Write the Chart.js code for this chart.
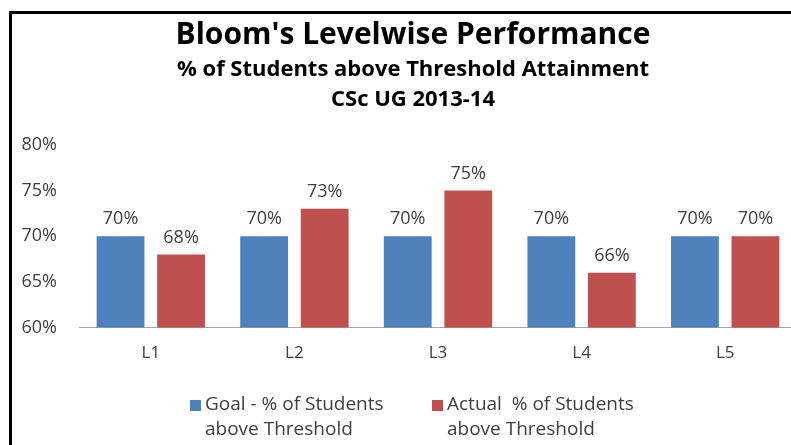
<!DOCTYPE html>
<html>
<head>
<meta charset="utf-8">
<script src="https://cdn.jsdelivr.net/npm/chart.js@4/dist/chart.umd.min.js"></script>
<style>
  html, body { margin: 0; padding: 0; background: #fff; overflow: hidden; }
  #frame { position: absolute; left: 9px; top: 11px; width: 800px; height: 440px;
           border-left: 3px solid #000; border-top: 3px solid #000; }
  #chart { display: block; }
</style>
</head>
<body>
<div id="frame"><canvas id="chart" width="785" height="440"></canvas></div>
<script>
const levels = ['L1', 'L2', 'L3', 'L4', 'L5'];
const goal = [0.70, 0.70, 0.70, 0.70, 0.70];
const actual = [0.68, 0.73, 0.75, 0.66, 0.70];
const seriesNames = [
  ['Goal - % of Students', 'above Threshold'],
  ['Actual  % of Students', 'above Threshold']
];
const seriesColors = ['#4F81BD', '#C0504D'];

const fontFam = '"Open Sans", Lato, sans-serif';
const textGray = '#404040';

function pct(v) { return Math.round(v * 100) + '%'; }

// the original frame runs past the right edge, so the titles sit a bit right of the canvas middle
const shiftTitles = {
  id: 'shiftTitles',
  afterLayout(chart) {
    chart.boxes.forEach((b) => {
      if (b.position === 'top') b.left = 17;
    });
  }
};

// value labels above each bar
const barLabels = {
  id: 'barLabels',
  afterDatasetsDraw(chart) {
    const c = chart.ctx;
    c.save();
    c.font = '18px ' + fontFam;
    c.fillStyle = textGray;
    c.textAlign = 'center';
    c.textBaseline = 'bottom';
    chart.data.datasets.forEach((ds, i) => {
      chart.getDatasetMeta(i).data.forEach((bar, j) => {
        c.fillText(pct(ds.data[j]), bar.x, bar.y - 8);
      });
    });
    c.restore();
  }
};

// two-line legend under the chart
const twoLineLegend = {
  id: 'twoLineLegend',
  afterDraw(chart) {
    const c = chart.ctx;
    const startX = [178, 420];
    c.save();
    c.font = '19px ' + fontFam;
    c.textBaseline = 'middle';
    c.textAlign = 'left';
    chart.data.datasets.forEach((ds, i) => {
      c.fillStyle = ds.backgroundColor;
      c.fillRect(startX[i], 386, 11, 11);
      c.fillStyle = textGray;
      seriesNames[i].forEach((line, k) => {
        c.fillText(line, startX[i] + 15, 391 + k * 25);
      });
    });
    c.restore();
  }
};

new Chart(document.getElementById('chart'), {
  type: 'bar',
  data: {
    labels: levels,
    datasets: [
      { label: seriesNames[0].join(' '), data: goal, backgroundColor: seriesColors[0] },
      { label: seriesNames[1].join(' '), data: actual, backgroundColor: seriesColors[1] }
    ]
  },
  options: {
    responsive: false,
    animation: false,
    categoryPercentage: 0.843,
    barPercentage: 0.79,
    layout: { padding: { left: 0, right: 0, top: 3, bottom: 84 } },
    plugins: {
      legend: { display: false },
      tooltip: { enabled: false },
      title: {
        display: true,
        text: "Bloom's Levelwise Performance",
        color: '#000',
        font: { family: fontFam, size: 30, weight: 'bold', lineHeight: 1.2 },
        padding: { top: 0, bottom: 2 }
      },
      subtitle: {
        display: true,
        text: ['% of Students above Threshold Attainment', 'CSc UG 2013-14'],
        color: '#000',
        font: { family: fontFam, size: 22, weight: 'bold', lineHeight: 1.36 },
        padding: { top: 0, bottom: 30 }
      }
    },
    scales: {
      x: {
        grid: { display: false },
        border: { display: true, color: '#A6A6A6' },
        ticks: { color: textGray, font: { family: fontFam, size: 17 }, padding: 7 }
      },
      y: {
        min: 0.6,
        max: 0.8,
        grid: { display: false },
        border: { display: false },
        afterFit: (scale) => { scale.width = 67; },
        ticks: {
          stepSize: 0.05,
          color: textGray,
          font: { family: fontFam, size: 18 },
          padding: 14,
          callback: (v) => pct(v)
        }
      }
    }
  },
  plugins: [shiftTitles, barLabels, twoLineLegend]
});
</script>
</body>
</html>
